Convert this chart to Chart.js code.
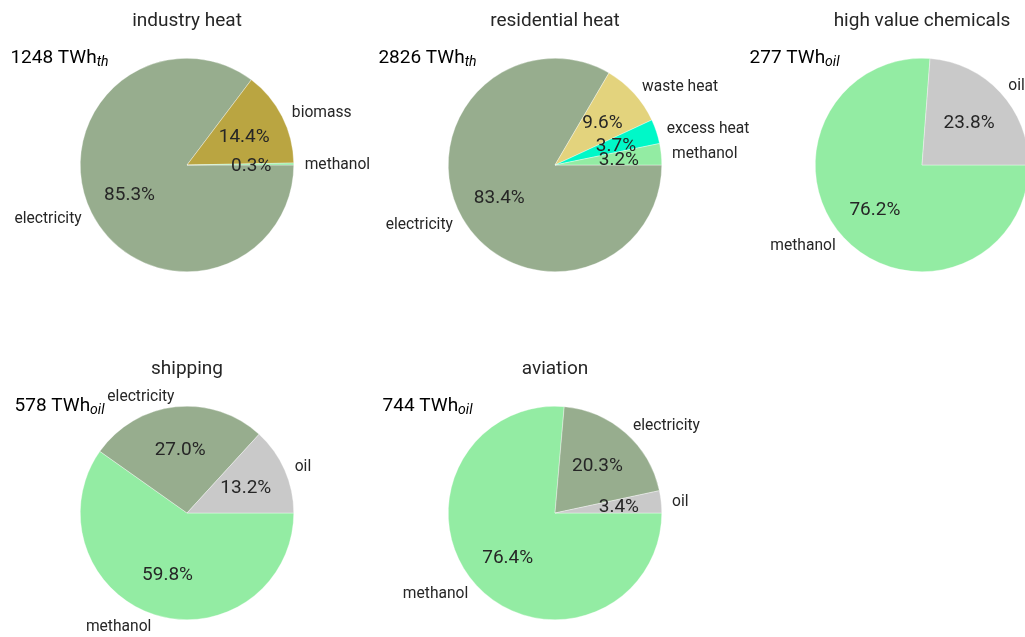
<!DOCTYPE html>
<html>
<head>
<meta charset="utf-8">
<script src="https://cdn.jsdelivr.net/npm/chart.js@4.4.1/dist/chart.umd.min.js"></script>
<style>
html,body{margin:0;padding:0;background:#fff;width:1025px;height:637px;overflow:hidden;position:relative;}
canvas{position:absolute;}
</style>
</head>
<body>
<script>
// ---- data ----
const titles = ['industry heat', 'residential heat', 'high value chemicals', 'shipping', 'aviation'];
const totalValues = ['1248', '2826', '277', '578', '744'];
const totalUnits = ['th', 'th', 'oil', 'oil', 'oil'];

const industryLabels = ['electricity', 'biomass', 'methanol'];
const industryValues = [85.3, 14.4, 0.3];

const residentialLabels = ['electricity', 'waste heat', 'excess heat', 'methanol'];
const residentialValues = [83.44, 9.63, 3.70, 3.23];

const hvcLabels = ['methanol', 'oil'];
const hvcValues = [76.2, 23.8];

const shippingLabels = ['methanol', 'electricity', 'oil'];
const shippingValues = [59.8, 27.0, 13.2];

const aviationLabels = ['methanol', 'electricity', 'oil'];
const aviationValues = [76.38, 20.26, 3.36];

const allLabels = [industryLabels, residentialLabels, hvcLabels, shippingLabels, aviationLabels];
const allValues = [industryValues, residentialValues, hvcValues, shippingValues, aviationValues];

// ---- styles ----
const colorMap = {
  'electricity': '#97ad8e',
  'biomass': '#baa541',
  'methanol': '#93eca3',
  'oil': '#c9c9c9',
  'waste heat': '#e3d37d',
  'excess heat': '#00f8c8'
};
const centers = [[187, 165], [555, 165], [922, 165], [187, 513], [555, 513]];
const R = 107;
const CW = 440, CH = 330, CX = 220, CY = 165;
const FONT = 'Roboto, "DejaVu Sans", sans-serif';

const labelPlugin = {
  id: 'pieLabels',
  afterDatasetsDraw(chart) {
    const ctx = chart.ctx;
    const idx = chart.options.plugins.pieLabels.idx;
    const meta = chart.getDatasetMeta(0);
    const labels = chart.data.labels;
    const vals = chart.data.datasets[0].data;
    const sum = vals.reduce((a, b) => a + b, 0);
    ctx.save();
    meta.data.forEach((arc, i) => {
      const p = arc.getProps(['x', 'y', 'startAngle', 'endAngle', 'outerRadius'], true);
      const mid = (p.startAngle + p.endAngle) / 2;
      const r = R;
      // percentage
      ctx.font = '19px ' + FONT;
      ctx.fillStyle = '#262626';
      ctx.textAlign = 'center';
      ctx.textBaseline = 'middle';
      ctx.fillText((vals[i] / sum * 100).toFixed(1) + '%', p.x + 0.6 * r * Math.cos(mid), p.y + 0.6 * r * Math.sin(mid) + 1.5);
      // category label
      const lx = p.x + 1.1 * r * Math.cos(mid);
      const ly = p.y + 1.1 * r * Math.sin(mid) + 1.5;
      ctx.font = '15.6px ' + FONT;
      ctx.fillStyle = '#262626';
      ctx.textAlign = Math.cos(mid) >= 0 ? 'left' : 'right';
      ctx.fillText(labels[i], lx, ly);
    });
    // title
    ctx.font = '19px ' + FONT;
    ctx.fillStyle = '#262626';
    ctx.textAlign = 'center';
    ctx.textBaseline = 'middle';
    ctx.fillText(titles[idx], CX, CY - 144);
    // total label
    ctx.font = '19px ' + FONT;
    const mainTxt = totalValues[idx] + ' TWh';
    const w1 = ctx.measureText(mainTxt).width;
    ctx.font = 'italic 14px ' + FONT;
    const w2 = ctx.measureText(totalUnits[idx]).width;
    const x0 = CX - 127.5 - (w1 + w2) / 2;
    ctx.textAlign = 'left';
    ctx.textBaseline = 'alphabetic';
    ctx.font = '19px ' + FONT;
    ctx.fillStyle = '#000';
    ctx.fillText(mainTxt, x0, CY - 102);
    ctx.font = 'italic 14px ' + FONT;
    ctx.fillText(totalUnits[idx], x0 + w1, CY - 99);
    ctx.restore();
  }
};

centers.forEach((c, idx) => {
  const cv = document.createElement('canvas');
  cv.width = CW; cv.height = CH;
  cv.style.left = (c[0] - CX) + 'px';
  cv.style.top = (c[1] - CY) + 'px';
  cv.style.width = CW + 'px'; cv.style.height = CH + 'px';
  document.body.appendChild(cv);
  new Chart(cv.getContext('2d'), {
    type: 'pie',
    data: {
      labels: allLabels[idx],
      datasets: [{
        data: allValues[idx],
        backgroundColor: allLabels[idx].map(l => colorMap[l]),
        borderColor: 'rgba(255,255,255,0.7)',
        borderWidth: 0.5,
        hoverOffset: 0
      }]
    },
    options: {
      responsive: false,
      animation: false,
      rotation: 90,
      layout: { padding: { left: CX - R, right: CW - CX - R, top: CY - R, bottom: CH - CY - R } },
      plugins: {
        legend: { display: false },
        tooltip: { enabled: false },
        pieLabels: { idx: idx }
      },
      events: []
    },
    plugins: [labelPlugin]
  });
});
</script>
</body>
</html>
